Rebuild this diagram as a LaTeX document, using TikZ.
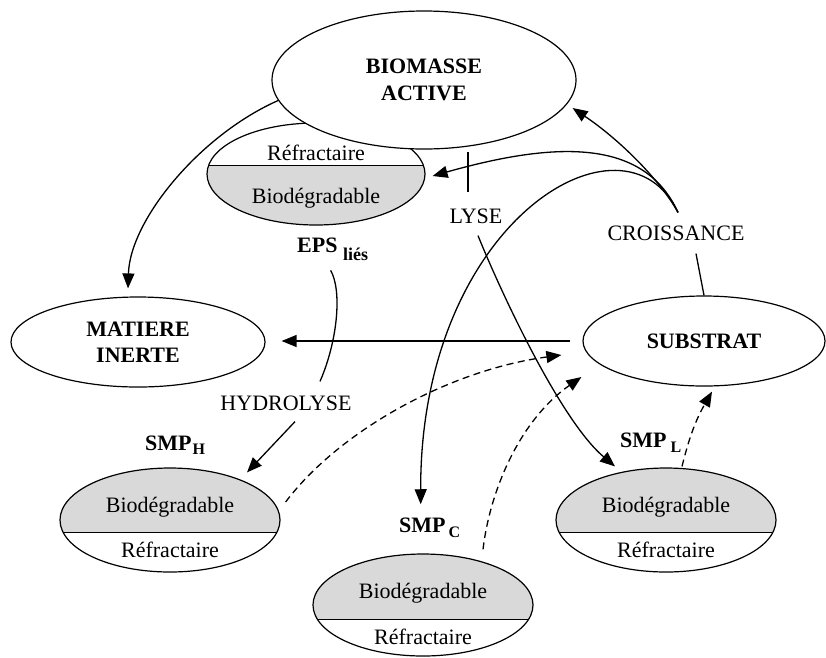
\documentclass[tikz,border=0pt]{standalone}
\usepackage{fontspec}
\setmainfont{Liberation Serif}
\usetikzlibrary{shapes.geometric,arrows.meta,calc}
\begin{document}
\begin{tikzpicture}[x=1pt,y=-1pt,
  lbl/.style={font=\fontsize{22}{26}\selectfont, inner sep=1pt},
  blbl/.style={font=\fontsize{22}{26.5}\selectfont\bfseries, inner sep=1pt, align=center},
  ell/.style={draw, ellipse, inner sep=0pt, line width=1.2pt},
  fillg/.style={fill=black!15},
  divl/.style={line width=1pt},
  conn/.style={line width=1.3pt},
  arr/.style={conn, -{Triangle[length=15pt,width=12pt]}},
  darr/.style={arr, dash pattern=on 7pt off 4.5pt},
]
\useasboundingbox (0,0) rectangle (826,657);

% EPS lies split ellipse (under biomass)
\begin{scope}
  \clip (316,174) ellipse [x radius=109pt, y radius=51pt];
  \fill[fillg] (200,165) rectangle (430,230);
  \draw[divl] (200,165) -- (430,165);
\end{scope}
\node[ell, minimum width=218pt, minimum height=102pt] (eps) at (316,174) {};
\node[lbl] (epsR) at (316,153) {Réfractaire};
\node[lbl] (epsB) at (316,198) {Biodégradable};

% Biomasse active
\node[ell, fill=white, minimum width=304pt, minimum height=138pt, blbl] (bio) at (424,80) {BIOMASSE\\ACTIVE};

% Matiere inerte
\node[ell, minimum width=254pt, minimum height=90pt, blbl] (mat) at (138,342) {MATIERE\\INERTE};

% Substrat
\node[ell, minimum width=242pt, minimum height=90pt, blbl] (sub) at (704,341) {SUBSTRAT};

% SMP_H split ellipse
\begin{scope}
  \clip (170,520) ellipse [x radius=110pt, y radius=52pt];
  \fill[fillg] (50,460) rectangle (290,532);
  \draw[divl] (50,532) -- (290,532);
\end{scope}
\node[ell, minimum width=220pt, minimum height=104pt] (smph) at (170,520) {};
\node[lbl] (smphB) at (170,507) {Biodégradable};
\node[lbl] (smphR) at (170,550) {Réfractaire};

% SMP_C split ellipse
\begin{scope}
  \clip (423,605) ellipse [x radius=110pt, y radius=51pt];
  \fill[fillg] (300,550) rectangle (540,619);
  \draw[divl] (300,619) -- (540,619);
\end{scope}
\node[ell, minimum width=220pt, minimum height=102pt] (smpc) at (423,605) {};
\node[lbl] (smpcB) at (423,593) {Biodégradable};
\node[lbl] (smpcR) at (423,637) {Réfractaire};

% SMP_L split ellipse
\begin{scope}
  \clip (666,520) ellipse [x radius=110pt, y radius=52pt];
  \fill[fillg] (550,460) rectangle (790,532);
  \draw[divl] (550,532) -- (790,532);
\end{scope}
\node[ell, minimum width=220pt, minimum height=104pt] (smpl) at (666,520) {};
\node[lbl] (smplB) at (666,507) {Biodégradable};
\node[lbl] (smplR) at (666,550) {Réfractaire};

% Labels
\node[blbl, anchor=base west] (epsL) at (296,252) {EPS \raisebox{-8pt}{\fontsize{18}{18}\selectfont liés}};
\node[blbl, anchor=base west] (smphL) at (144,450) {SMP\kern1pt\raisebox{-4pt}{\fontsize{16}{16}\selectfont H}};
\node[blbl, anchor=base west] (smpcL) at (398,532) {SMP\kern3pt\raisebox{-5pt}{\fontsize{16}{16}\selectfont C}};
\node[blbl, anchor=base west] (smplL) at (619,447) {SMP\kern4pt\raisebox{-5pt}{\fontsize{16}{16}\selectfont L}};
\node[lbl] (lyse) at (476,216) {LYSE};
\node[lbl] (cr) at (676,233) {CROISSANCE};
\node[lbl] (hyd) at (286,403) {HYDROLYSE};

% Helper coordinates
\coordinate (crtop) at ($(cr.north)+(2,-12)$);
\coordinate (bioin) at ($(bio.east)+(-4,28)$);
\coordinate (epsin) at ($(eps.east)+(7,2)$);
\coordinate (smpcin) at ($(smpcL.north)+(-9,-12)$);

% Biomasse -> matiere inerte
\draw[arr] (bio.188) .. controls (200,135) and (130,220) .. ($(mat.north)+(-10,-8)$);
% Substrat -> matiere inerte
\draw[arr, shorten <=12pt, shorten >=16pt] (sub.west) -- (sub.west -| mat.east);
% Substrat -- croissance
\draw[conn] (sub.north) -- ($(cr.south)+(20,12)$);
% Croissance branches
\draw[arr] (crtop) .. controls (660,180) and (620,140) .. (bioin);
\draw[arr] (crtop) .. controls (645,140) and (560,140) .. (epsin);
\draw[arr] (crtop) .. controls (625,100) and (420,220) .. (smpcin);
% Lyse
\draw[conn] ($(lyse.north)+(-8,-55)$) -- ++(0,40);
\draw[arr] ($(lyse.south)+(2,11)$) .. controls (500,290) and (560,420) .. ($(smpl.north)+(-51,-1)$);
% Hydrolyse
\draw[conn] ($(epsL.south)+(-2,9)$) .. controls (342,290) and (338,340) .. ($(hyd.north)+(34,-13)$);
\draw[arr] ($(hyd.south)+(9,10)$) -- ($(smph.north)+(77,5)$);
% Dashed returns to substrat
\draw[darr] ($(smph.east)+(5,-18)$) .. controls (340,430) and (450,370) .. ($(sub.west)+(-21,14)$);
\draw[darr] ($(smpc.north)+(60,-4)$) .. controls (490,490) and (520,420) .. ($(sub.west)+(-1,36)$);
\draw[darr] ($(smpl.north)+(16,-1)$) to[bend left=8] ($(sub.south)+(8,5)$);
\end{tikzpicture}
\end{document}
